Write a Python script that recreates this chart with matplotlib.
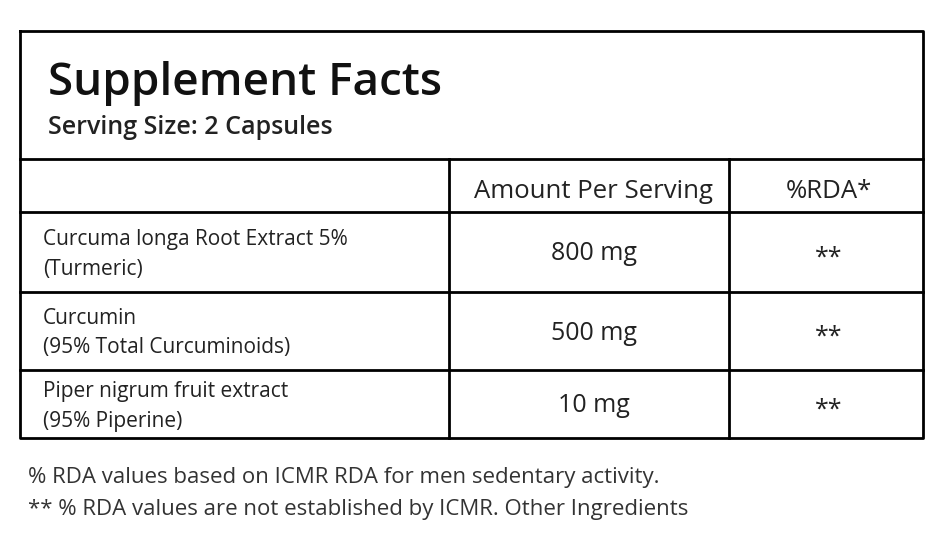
import matplotlib.pyplot as plt

plt.rcParams["font.family"] = ["Open Sans", "DejaVu Sans"]

title = "Supplement Facts"
serving = "Serving Size: 2 Capsules"
col_headers = ["Amount Per Serving", "%RDA*"]
ingredients = [
    ("Curcuma longa Root Extract 5%", "(Turmeric)"),
    ("Curcumin", "(95% Total Curcuminoids)"),
    ("Piper nigrum fruit extract", "(95% Piperine)"),
]
amounts = ["800 mg", "500 mg", "10 mg"]
rda = ["**", "**", "**"]
footnotes = [
    "% RDA values based on ICMR RDA for men sedentary activity.",
    "** % RDA values are not established by ICMR. Other Ingredients",
]

fig = plt.figure(figsize=(9.5, 5.36), dpi=100)
ax = fig.add_axes([0, 0, 1, 1])
ax.set_xlim(0, 950)
ax.set_ylim(536, 0)
ax.axis("off")

left, right, top, bottom = 20, 923, 31, 438
header_y = 159
row_lines = [212, 292, 370]
col_x = [449, 729]
lw = 2

ax.plot([left, right, right, left, left], [top, top, bottom, bottom, top], color="black", lw=lw)
ax.plot([left, right], [header_y, header_y], color="black", lw=lw)
for y in row_lines:
    ax.plot([left, right], [y, y], color="black", lw=lw)
for x in col_x:
    ax.plot([x, x], [header_y, bottom], color="black", lw=lw)

ax.text(48, 84, title, fontsize=33, fontweight="semibold", va="center", color="#111")
ax.text(48, 128, serving, fontsize=18, fontweight="semibold", va="center", color="#222")

amt_cx = (col_x[0] + col_x[1]) / 2 + 5
rda_cx = (col_x[1] + right) / 2 + 3
ax.text(amt_cx, 191, col_headers[0], fontsize=18.5, ha="center", va="center", color="#222")
ax.text(rda_cx, 191, col_headers[1], fontsize=18.5, ha="center", va="center", color="#222")

bounds = [212] + row_lines[1:] + [bottom]
for i, (name, sub) in enumerate(ingredients):
    y0, y1 = bounds[i], bounds[i + 1]
    cy = (y0 + y1) / 2
    ax.text(43, cy - 12, name, fontsize=15, va="center", color="#222")
    ax.text(43, cy + 17, sub, fontsize=15, va="center", color="#222")
    ax.text(amt_cx, cy + 2, amounts[i], fontsize=18, ha="center", va="center", color="#222")
    ax.text(rda_cx, cy + 6, rda[i], fontsize=18, ha="center", va="center", color="#222")

for i, line in enumerate(footnotes):
    ax.text(28, 478 + i * 31, line, fontsize=16, va="center", color="#333")

fig.savefig("out.png", dpi=100)
